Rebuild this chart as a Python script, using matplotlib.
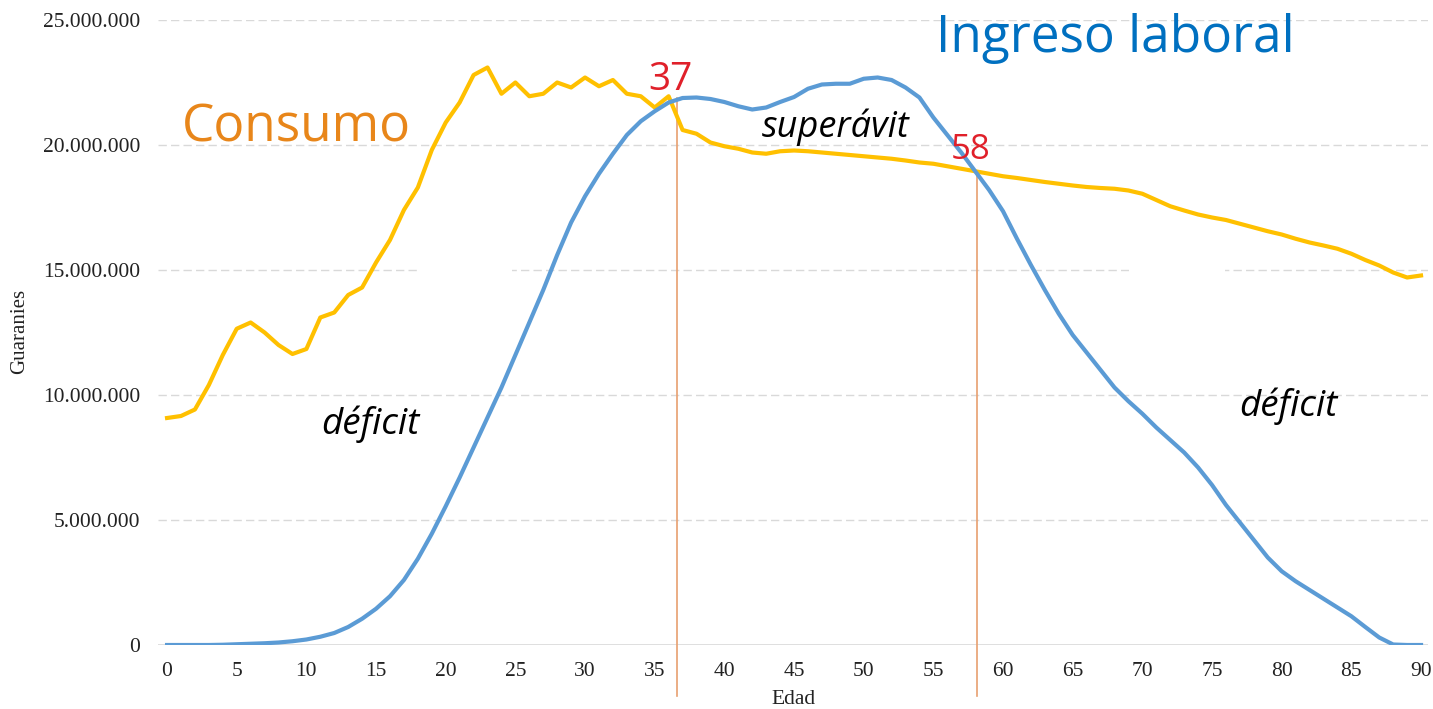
import matplotlib
matplotlib.use("Agg")
import matplotlib.pyplot as plt
from matplotlib.patches import Rectangle
import numpy as np

edad = list(range(0, 91))

consumo = [9.08, 9.16, 9.42, 10.4, 11.6, 12.65, 12.9, 12.5, 12.0, 11.64,
           11.84, 13.1, 13.3, 14.0, 14.3, 15.3, 16.2, 17.4, 18.3, 19.8,
           20.9, 21.7, 22.8, 23.1, 22.05, 22.5, 21.95, 22.05, 22.5, 22.3,
           22.7, 22.35, 22.6, 22.05, 21.95, 21.5, 21.95, 20.6, 20.45, 20.1,
           19.95, 19.85, 19.7, 19.65, 19.75, 19.78, 19.75, 19.7, 19.65, 19.6,
           19.55, 19.5, 19.45, 19.38, 19.3, 19.25, 19.15, 19.05, 18.95, 18.85,
           18.75, 18.68, 18.6, 18.52, 18.45, 18.38, 18.32, 18.28, 18.25, 18.18,
           18.05, 17.8, 17.55, 17.38, 17.22, 17.1, 17.0, 16.85, 16.7, 16.55,
           16.42, 16.25, 16.1, 15.98, 15.85, 15.65, 15.4, 15.18, 14.9, 14.7,
           14.78]

ingreso = [0, 0, 0, 0, 0.01, 0.03, 0.05, 0.07, 0.1, 0.15,
           0.22, 0.33, 0.48, 0.72, 1.05, 1.45, 1.95, 2.6, 3.45, 4.45,
           5.55, 6.7, 7.9, 9.1, 10.3, 11.6, 12.9, 14.2, 15.6, 16.9,
           17.95, 18.85, 19.65, 20.4, 20.95, 21.35, 21.7, 21.88, 21.9, 21.84,
           21.72, 21.55, 21.42, 21.5, 21.72, 21.92, 22.25, 22.42, 22.45, 22.45,
           22.65, 22.7, 22.6, 22.3, 21.9, 21.1, 20.4, 19.7, 18.95, 18.2,
           17.35, 16.25, 15.2, 14.2, 13.25, 12.4, 11.7, 11.0, 10.3, 9.75,
           9.25, 8.7, 8.2, 7.7, 7.1, 6.4, 5.6, 4.9, 4.2, 3.5,
           2.95, 2.55, 2.2, 1.85, 1.5, 1.15, 0.72, 0.3, 0.02, 0,
           0]

cruces_edad = [36.6, 58.1]
cruces_valor = [21.88, 18.95]
cruces_texto = ["37", "58"]

yticks = [0, 5e6, 10e6, 15e6, 20e6, 25e6]
ytick_labels = ["0", "5.000.000", "10.000.000", "15.000.000", "20.000.000", "25.000.000"]
xticks = list(range(0, 91, 5))

W, H = 1433, 709
fig = plt.figure(figsize=(W / 100, H / 100), dpi=100)
ax = fig.add_axes([158 / W, (H - 645) / H, (1428 - 158) / W, 625 / H])

M = 1e6
ax.plot(edad, np.array(consumo) * M, color="#FFC000", lw=3.0, solid_joinstyle="round", zorder=3)
ax.plot(edad, np.array(ingreso) * M, color="#5B9BD5", lw=3.0, solid_joinstyle="round", zorder=3)

ax.set_xlim(-0.65, 90.5)
ax.set_ylim(0, 25e6)

# vertical marker lines extending below axis
for xe, yv in zip(cruces_edad, cruces_valor):
    ax.plot([xe, xe], [yv * M, -2.05e6], color="#E8A070", lw=1.2, clip_on=False, zorder=2)

for s in ax.spines.values():
    s.set_visible(False)
ax.set_yticks(yticks)
ax.set_yticklabels(ytick_labels)
ax.set_xticks(xticks)
ax.tick_params(axis="both", length=0, labelsize=15.5, colors="#222222")
ax.tick_params(axis="y", pad=13)
ax.tick_params(axis="x", pad=12)
for lab in ax.get_xticklabels() + ax.get_yticklabels():
    lab.set_family("Liberation Serif")

for yv in yticks[1:]:
    ax.axhline(yv, color="#D9D9D9", lw=1.0, ls=(0, (6, 3)), zorder=1)
ax.axhline(0, color="#D9D9D9", lw=1.2, zorder=1)

# white pasted boxes hiding parts of the gridlines (as in the source image)
for x0, x1, y0, y1 in [(417, 512, 222, 290), (1129, 1225, 222, 290)]:
    fig.patches.append(Rectangle((x0 / W, 1 - y1 / H), (x1 - x0) / W, (y1 - y0) / H,
                                 transform=fig.transFigure, facecolor="white",
                                 edgecolor="none", zorder=1.5))

ax.set_xlabel("Edad", family="Liberation Serif", fontsize=15.5, labelpad=7, color="#222222")
fig.text(20 / W, 1 - 331 / H, "Guaranies", rotation=90, family="Liberation Serif",
         fontsize=15, ha="center", va="center", color="#222222")

def px(x, y):
    return x / W, 1 - y / H

fig.text(*px(296, 128), "Consumo", color="#E8861A", family="Open Sans",
         fontsize=37, ha="center", va="center")
fig.text(*px(1115, 38), "Ingreso laboral", color="#0070C0", family="Open Sans",
         fontsize=37, ha="center", va="center")
fig.text(*px(836, 127), "superávit", color="black", family="Open Sans", style="italic",
         fontsize=26, ha="center", va="center")
fig.text(*px(370, 424), "déficit", color="black", family="Open Sans", style="italic",
         fontsize=26.5, ha="center", va="center")
fig.text(*px(1288, 406), "déficit", color="black", family="Open Sans", style="italic",
         fontsize=26.5, ha="center", va="center")
fig.text(*px(670, 80), cruces_texto[0], color="#E0202A", family="Open Sans",
         fontsize=28, ha="center", va="center")
fig.text(*px(971, 150), cruces_texto[1], color="#E0202A", family="Open Sans",
         fontsize=25, ha="center", va="center")

fig.savefig("out.png", dpi=100, facecolor="white")
